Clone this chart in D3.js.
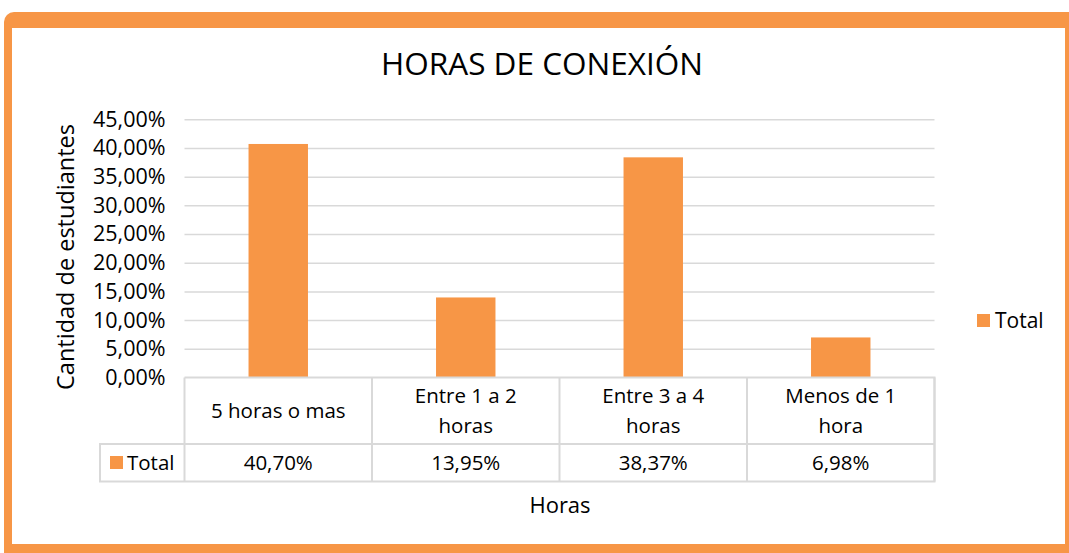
<!DOCTYPE html>
<html>
<head>
<meta charset="utf-8">
<script src="https://cdn.jsdelivr.net/npm/d3@7"></script>
<style>
  html, body { margin: 0; padding: 0; background: #fff; }
  svg { display: block; }
  text { font-family: "Open Sans", Lato, sans-serif; fill: #000; }
</style>
</head>
<body>
<svg id="chart"></svg>
<script>
// datos del gráfico
var categories = ["5 horas o mas", "Entre 1 a 2 horas", "Entre 3 a 4 horas", "Menos de 1 hora"];
var values = [0.4070, 0.1395, 0.3837, 0.0698];
var valueLabels = ["40,70%", "13,95%", "38,37%", "6,98%"];
var yTicks = [0, 0.05, 0.10, 0.15, 0.20, 0.25, 0.30, 0.35, 0.40, 0.45];
var seriesName = "Total";

var width = 1069, height = 553;
var orange = "#f79646";
var grid = "#d9d9d9";
var fs = 20.5;

var svg = d3.select("#chart")
   .attr("width", width)
   .attr("height", height);

// marco naranja
svg.append("rect")
   .attr("x", 4).attr("y", 12)
   .attr("width", width + 20).attr("height", height + 20)
   .attr("rx", 10)
   .attr("fill", orange);

svg.append("rect")
   .attr("x", 12).attr("y", 28)
   .attr("width", 1053).attr("height", 516)
   .attr("fill", "#fff");

// área del gráfico
var plot = {left: 184.5, right: 934.5, top: 119.3, bottom: 377.5};

var x = d3.scaleBand()
   .domain(categories)
   .range([plot.left, plot.right])
   .paddingInner(0).paddingOuter(0);

var y = d3.scaleLinear()
   .domain([0, 0.45])
   .range([plot.bottom, plot.top]);

var fmt = function(d) { return d3.format(".2f")(d * 100).replace(".", ",") + "%"; };

// líneas de cuadrícula
var yAxis = d3.axisLeft(y)
   .tickValues(yTicks)
   .tickSize(-(plot.right - plot.left))
   .tickPadding(19)
   .tickFormat(fmt);

var yAxisG = svg.append("g")
   .attr("transform", "translate(" + plot.left + ",0)")
   .call(yAxis);

yAxisG.select(".domain").remove();
yAxisG.selectAll(".tick line")
   .attr("stroke", grid)
   .attr("stroke-width", 1.5)
   .filter(function(d) { return d === 0; }).remove();
yAxisG.selectAll(".tick text")
   .attr("font-size", 21.5)
   .attr("font-family", "'Open Sans', sans-serif")
   .attr("fill", "#000");

// barras
var barW = x.bandwidth() * 0.317;
svg.append("g").selectAll("rect")
   .data(values)
   .join("rect")
   .attr("x", function(d, i) { return x(categories[i]) + x.bandwidth() / 2 - barW / 2; })
   .attr("y", function(d) { return y(d); })
   .attr("width", barW)
   .attr("height", function(d) { return y(0) - y(d); })
   .attr("fill", orange);

// tabla de datos
var rowMid = 444, rowBottom = 481.5, legendLeft = 100;
var table = svg.append("g")
   .attr("fill", "none")
   .attr("stroke", grid)
   .attr("stroke-width", 2);

table.append("path")
   .attr("d",
      "M" + plot.left + "," + plot.bottom + "H" + plot.right + "V" + rowBottom +
      "H" + legendLeft + "V" + rowMid + "H" + plot.right +
      "M" + legendLeft + "," + rowMid + "H" + plot.left);

table.selectAll("line.col")
   .data(d3.range(categories.length + 1))
   .join("line")
   .attr("x1", function(i) { return plot.left + i * x.bandwidth(); })
   .attr("x2", function(i) { return plot.left + i * x.bandwidth(); })
   .attr("y1", plot.bottom)
   .attr("y2", rowBottom);

// etiquetas de categorías (con ajuste de línea)
var catG = svg.append("g");
categories.forEach(function(c, i) {
   var cx = x(c) + x.bandwidth() / 2;
   var t = catG.append("text")
      .attr("text-anchor", "middle")
      .attr("font-size", fs);
   var words = c.split(" "), lines = [], line = [];
   var probe = catG.append("text").attr("font-size", fs);
   words.forEach(function(w) {
      line.push(w);
      probe.text(line.join(" "));
      if (probe.node().getComputedTextLength() > 148 && line.length > 1) {
         line.pop();
         lines.push(line.join(" "));
         line = [w];
      }
   });
   lines.push(line.join(" "));
   probe.remove();
   var lh = 30;
   var cy = (plot.bottom + rowMid) / 2 - (lines.length - 1) * lh / 2;
   lines.forEach(function(l, j) {
      t.append("tspan")
         .attr("x", cx)
         .attr("y", cy + j * lh)
         .attr("dy", "0.35em")
         .text(l);
   });
});

// valores en la tabla
svg.append("g").selectAll("text")
   .data(valueLabels)
   .join("text")
   .attr("x", function(d, i) { return x(categories[i]) + x.bandwidth() / 2; })
   .attr("y", (rowMid + rowBottom) / 2)
   .attr("dy", "0.35em")
   .attr("text-anchor", "middle")
   .attr("font-size", fs)
   .text(function(d) { return d; });

// clave de leyenda en la tabla
svg.append("rect")
   .attr("x", 110).attr("y", 456)
   .attr("width", 13).attr("height", 13)
   .attr("fill", orange);
svg.append("text")
   .attr("x", 127).attr("y", (rowMid + rowBottom) / 2)
   .attr("dy", "0.35em")
   .attr("font-size", fs)
   .text(seriesName);

// leyenda derecha
svg.append("rect")
   .attr("x", 977).attr("y", 314)
   .attr("width", 13).attr("height", 13)
   .attr("fill", orange);
svg.append("text")
   .attr("x", 995).attr("y", 321)
   .attr("dy", "0.35em")
   .attr("font-size", 21)
   .text(seriesName);

// títulos
svg.append("text")
   .attr("x", 542).attr("y", 75)
   .attr("text-anchor", "middle")
   .attr("font-size", 31.5)
   .text("HORAS DE CONEXIÓN");

svg.append("text")
   .attr("transform", "translate(74,257) rotate(-90)")
   .attr("text-anchor", "middle")
   .attr("font-size", 23.5)
   .text("Cantidad de estudiantes");

svg.append("text")
   .attr("x", 560).attr("y", 505)
   .attr("dy", "0.35em")
   .attr("text-anchor", "middle")
   .attr("font-size", 22)
   .text("Horas");
</script>
</body>
</html>
